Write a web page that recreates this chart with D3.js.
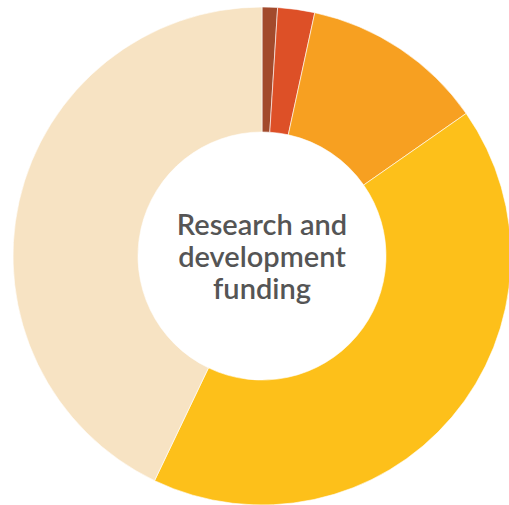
<!DOCTYPE html>
<html>
<head>
<meta charset="utf-8">
<script src="https://cdn.jsdelivr.net/npm/d3@7"></script>
<style>
  body { margin: 0; background: #fff; }
</style>
</head>
<body>
<div class="chart"></div>
<script>
// slices, clockwise from 12 o'clock (share of total, %)
const categories = ['A', 'B', 'C', 'D', 'E'];
const values = [1.0, 2.4, 11.9, 41.8, 42.9];
const colors = ['#a24a2c', '#dd5027', '#f7a021', '#fdc01a', '#f7e3c3'];
const titleLines = ['Research and', 'development', 'funding'];

const width = 509, height = 505;
const cx = 262, cy = 256;
const outerR = 249, innerR = 124;

const data = categories.map((c, i) => ({cat: c, value: values[i]}));

const svg = d3.select('.chart').append('svg')
    .attr('width', width)
    .attr('height', height);

const g = svg.append('g')
    .attr('transform', "translate(" + cx + "," + cy + ")");

const colorScale = d3.scaleOrdinal()
    .domain(categories)
    .range(colors);

const pie = d3.pie()
    .value(d => d.value)
    .sort(null);

const arc = d3.arc()
    .innerRadius(innerR)
    .outerRadius(outerR);

g.selectAll('.slice')
    .data(pie(data))
    .enter()
    .append('path')
    .attr('class', 'slice')
    .attr('d', arc)
    .attr('fill', d => colorScale(d.data.cat))
    .attr('stroke', '#fff')
    .attr('stroke-width', 0.6);

//center label
const label = g.append('text')
    .attr('text-anchor', 'middle')
    .attr('font-family', 'Lato, sans-serif')
    .attr('font-weight', 600)
    .attr('font-size', 29)
    .attr('fill', '#555555');

label.selectAll('tspan')
    .data(titleLines)
    .enter()
    .append('tspan')
    .attr('x', 0)
    .attr('y', (d, i) => -21 + i * 32)
    .text(d => d);
</script>
</body>
</html>
